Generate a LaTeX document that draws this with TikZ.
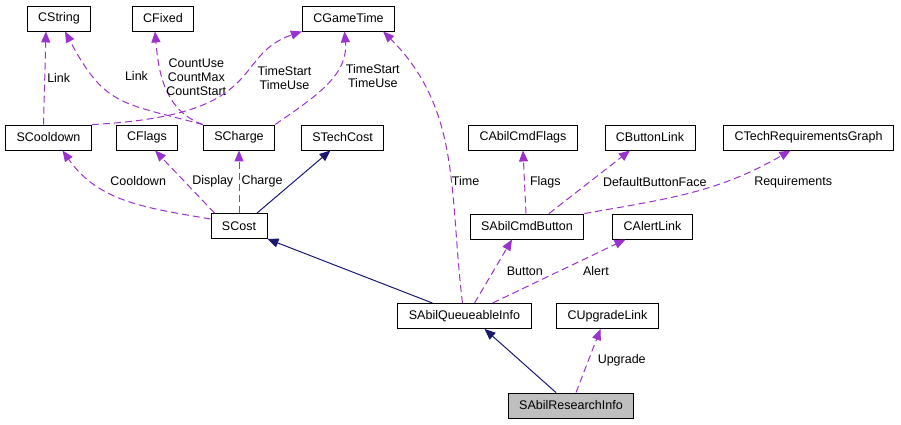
\documentclass[tikz,border=0pt]{standalone}
\usepackage{fontspec}
\setmainfont{Liberation Sans}
\usetikzlibrary{arrows.meta}
\definecolor{usecol}{HTML}{9A32CD}
\definecolor{inhcol}{HTML}{191970}

\begin{document}
\begin{tikzpicture}[x=1pt, y=1pt, font=\fontsize{12.5}{14}\selectfont,
    cls/.style={draw, line width=0.9pt, minimum height=25pt, inner xsep=11pt, inner ysep=0pt, fill=white},
    use/.style={draw=usecol, line width=1pt, dash pattern=on 7pt off 4pt, -{Triangle[length=11pt,width=9pt]}},
    inh/.style={draw=inhcol, line width=1pt, -{Triangle[length=11pt,width=9pt]}},
    lbl/.style={text=black, align=center, inner sep=2pt}]
         \useasboundingbox (0,0) rectangle (901,-424);
         %nodes
         \node[cls] at (59,-18.5) (cstring) {CString};
         \node[cls] at (163,-18.5) (cfixed) {CFixed};
         \node[cls] at (348.5,-18.5) (cgametime) {CGameTime};
         \node[cls] at (48.5,-137.5) (scooldown) {SCooldown};
         \node[cls] at (147,-137.5) (cflags) {CFlags};
         \node[cls] at (239,-137.5) (scharge) {SCharge};
         \node[cls] at (342.5,-137.5) (stechcost) {STechCost};
         \node[cls] at (523,-137.5) (cabilcmdflags) {CAbilCmdFlags};
         \node[cls] at (650,-137.5) (cbuttonlink) {CButtonLink};
         \node[cls] at (808.5,-137.5) (ctechreq) {CTechRequirementsGraph};
         \node[cls] at (239,-226) (scost) {SCost};
         \node[cls] at (527,-226.5) (sabilcmdbutton) {SAbilCmdButton};
         \node[cls] at (652.5,-226.5) (calertlink) {CAlertLink};
         \node[cls] at (464.5,-316) (sabilqueue) {SAbilQueueableInfo};
         \node[cls] at (607.5,-316) (cupgradelink) {CUpgradeLink};
         \node[cls, fill=black!25] at (571,-405.5) (sabilresearch) {SAbilResearchInfo};
         %members
         \path
             ([xshift=-5]scooldown.north) edge[use] node[lbl, right] {Link} ([xshift=-13]cstring.south)
             (scharge.north west) edge[use, out=165, in=-62, looseness=1.3] node[lbl, pos=0.55, right=10pt, yshift=18pt] {Link} ([xshift=6]cstring.south)
             (scharge.north west) edge[use, out=160, in=-85] node[lbl, pos=0.55, right, yshift=6pt] {CountUse\\CountMax\\CountStart} ([xshift=-8]cfixed.south)
             (scooldown.north east) edge[use, out=3, in=199, out looseness=2, in looseness=0.85] node[lbl, pos=0.5, right=18pt, yshift=6pt] {TimeStart\\TimeUse} (cgametime.south west)
             (scharge.north east) edge[use, out=35, in=-85] node[lbl, pos=0.6, right=11pt] {TimeStart\\TimeUse} ([xshift=-4]cgametime.south)
             ([xshift=-2]sabilqueue.north) edge[use, out=97, in=-45] node[lbl, pos=0.45, right, yshift=-12pt] {Time} ([xshift=-12]cgametime.south east)
             ([yshift=-6]scost.north west) edge[use, out=170, in=-55] node[lbl, pos=0.45, above=15pt, xshift=4pt] {Cooldown} ([xshift=14]scooldown.south)
             ([xshift=4]scost.north west) edge[use] node[lbl, right=5pt] {Display} ([xshift=8]cflags.south)
             (scost.north) edge[use] node[lbl, right] {Charge} (scharge.south)
             ([xshift=-1]sabilcmdbutton.north) edge[use] node[lbl, right=3pt] {Flags} (cabilcmdflags.south)
             ([xshift=22]sabilcmdbutton.north) edge[use] node[lbl, pos=0.5, right=11pt] {DefaultButtonFace} ([xshift=-20]cbuttonlink.south)
             (sabilcmdbutton.north east) edge[use, out=10, in=210] node[lbl, pos=0.66, right=30pt] {Requirements} ([xshift=-18]ctechreq.south)
             ([xshift=10]sabilqueue.north) edge[use] node[lbl, pos=0.5, right=11pt] {Button} ([xshift=-15]sabilcmdbutton.south)
             ([xshift=28]sabilqueue.north) edge[use] node[lbl, pos=0.7, below right, xshift=-5pt, yshift=-5pt] {Alert} ([xshift=-27]calertlink.south)
             ([xshift=5]sabilresearch.north) edge[use] node[lbl, right=7pt] {Upgrade} ([xshift=-7]cupgradelink.south);
         %bases
         \path
             ([xshift=18]scost.north) edge[inh] ([xshift=-12]stechcost.south)
             ([xshift=-32]sabilqueue.north) edge[inh] (scost.south east)
             ([xshift=-15]sabilresearch.north) edge[inh] ([xshift=20]sabilqueue.south);
    \end{tikzpicture}
\end{document}
